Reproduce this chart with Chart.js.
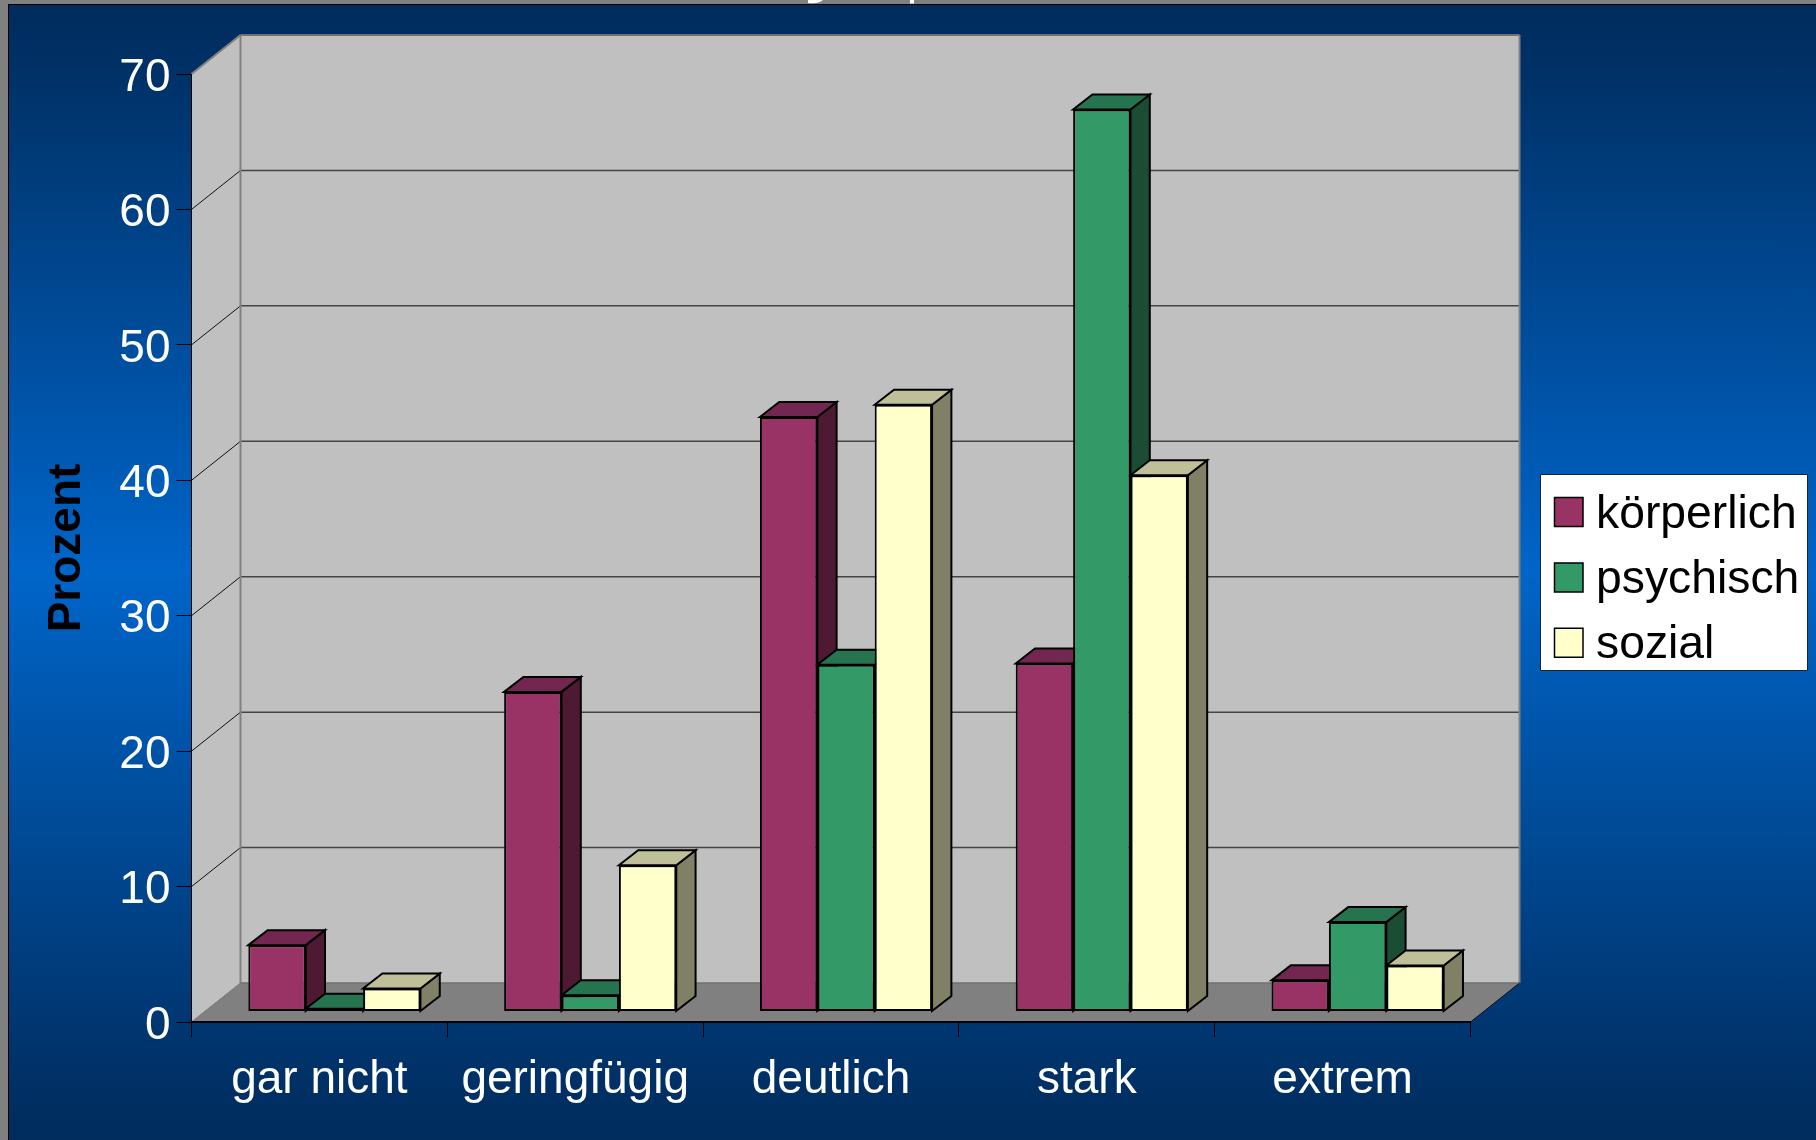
<!DOCTYPE html>
<html><head><meta charset="utf-8">
<style>
html,body{margin:0;padding:0;width:1816px;height:1140px;overflow:hidden;background:#808080}
#bg{position:absolute;left:8px;top:4px;width:1808px;height:1136px;box-sizing:border-box;border-left:1.5px solid #000;border-top:1.5px solid #000;
background:linear-gradient(to bottom,#002c5e 0%,#002f63 4%,#0065c9 50%,#002f63 96%,#002c5e 100%)}
#wrap{position:absolute;left:0;top:0;width:1816px;height:1140px}
canvas{display:block}
</style>
<script src="https://cdn.jsdelivr.net/npm/chart.js@4/dist/chart.umd.min.js"></script>
</head><body>
<div id="bg"></div>
<div id="wrap"><canvas id="c" width="1816" height="1140"></canvas></div>
<script>
const categories = ['gar nicht','geringfügig','deutlich','stark','extrem'];
const seriesNames = ['körperlich','psychisch','sozial'];
const koerperlich = [4.9,23.6,43.9,25.7,2.3];
const psychisch   = [0.2,1.2,25.6,66.6,6.6];
const sozial      = [1.7,10.8,44.8,39.6,3.4];
const yTicks = [0,10,20,30,40,50,60,70];
const frontColors = ['#993366','#339966','#FFFFCC'];
const topColors   = ['#732650','#267350','#BFBF99'];
const sideColors  = ['#4D1933','#1A4D33','#808066'];

const FONT = '"Liberation Sans", Arial, sans-serif';
const WALL = {dx:49, dy:39};
const SHIFT = {dx:15, dy:10.5};
const BAR = {dx:19.3, dy:15};

function poly(ctx, pts, fill, stroke, lw){
  ctx.beginPath();
  pts.forEach((p,i)=> i?ctx.lineTo(p[0],p[1]):ctx.moveTo(p[0],p[1]));
  ctx.closePath();
  if(fill){ctx.fillStyle=fill;ctx.fill();}
  if(stroke){ctx.strokeStyle=stroke;ctx.lineWidth=lw;ctx.stroke();}
}
function line(ctx,x1,y1,x2,y2,c,lw){
  ctx.beginPath();ctx.moveTo(x1,y1);ctx.lineTo(x2,y2);ctx.strokeStyle=c;ctx.lineWidth=lw;ctx.stroke();
}

const stage = {
  id:'stage',
  beforeDraw(chart){
    const {ctx,chartArea:a,scales:{y}} = chart;
    const d=WALL;
    ctx.save();
    // clipped title remnants at the very top edge
    ctx.fillStyle='#fff';
    ctx.beginPath();ctx.moveTo(808,0);ctx.lineTo(823,0);ctx.quadraticCurveTo(818,4,808,3);ctx.closePath();ctx.fill();
    ctx.fillRect(910,0,4,3.5);
    // back wall
    poly(ctx,[[a.left+d.dx,a.top-d.dy],[a.right+d.dx,a.top-d.dy],[a.right+d.dx,a.bottom-d.dy],[a.left+d.dx,a.bottom-d.dy]],'#C0C0C0');
    // left wall
    poly(ctx,[[a.left,a.top],[a.left+d.dx,a.top-d.dy],[a.left+d.dx,a.bottom-d.dy],[a.left,a.bottom]],'#C0C0C0');
    // floor
    poly(ctx,[[a.left,a.bottom],[a.left+d.dx,a.bottom-d.dy],[a.right+d.dx,a.bottom-d.dy],[a.right,a.bottom]],'#808080');
    // grid on walls
    yTicks.forEach(v=>{
      const p=y.getPixelForValue(v);
      if(v>0 && v<70){
        line(ctx,a.left,p,a.left+d.dx,p-d.dy,'#111',1);
        line(ctx,a.left+d.dx,p-d.dy,a.right+d.dx,p-d.dy,'#444',1.5);
      }
    });
    // wall outlines
    line(ctx,a.left,a.top,a.left+d.dx,a.top-d.dy,'#808080',2);
    line(ctx,a.left+d.dx,a.top-d.dy,a.right+d.dx,a.top-d.dy,'#707070',2);
    line(ctx,a.left+d.dx,a.top-d.dy,a.left+d.dx,a.bottom-d.dy,'#808080',2);
    line(ctx,a.right+d.dx,a.top-d.dy,a.right+d.dx,a.bottom-d.dy,'#808080',2);
    line(ctx,a.left+d.dx,a.bottom-d.dy,a.right+d.dx,a.bottom-d.dy,'#707070',1.5);
    line(ctx,a.left,a.bottom,a.left+d.dx,a.bottom-d.dy,'#808080',1);
    line(ctx,a.right,a.bottom,a.right+d.dx,a.bottom-d.dy,'#111',1);
    ctx.restore();
  },
  beforeDatasetsDraw(chart){
    const ctx=chart.ctx, b=BAR;
    ctx.save();
    ctx.translate(SHIFT.dx,-SHIFT.dy);
    // side and top faces, left to right; the library then paints the front faces over them
    ctx.save();
    ctx.lineJoin='miter';
    chart.data.datasets.forEach((ds,i)=>{
      chart.getDatasetMeta(i).data.forEach(el=>{
        const l=el.x-el.width/2, r=el.x+el.width/2, t=el.y, g=el.base;
        poly(ctx,[[r,t],[r+b.dx,t-b.dy],[r+b.dx,g-b.dy],[r,g]],sideColors[i],'#000',2);
        poly(ctx,[[l,t],[l+b.dx,t-b.dy],[r+b.dx,t-b.dy],[r,t]],topColors[i],'#000',2);
      });
    });
    ctx.restore();
  },
  afterDatasetsDraw(chart){
    chart.ctx.restore();
  },
  afterDraw(chart){
    const ctx=chart.ctx;
    ctx.save();
    poly(ctx,[[1540.5,474.5],[1807.5,474.5],[1807.5,670.5],[1540.5,670.5]],'#fff','#222',1);
    chart.data.datasets.forEach((ds,i)=>{
      const top=497.5+i*65.4;
      poly(ctx,[[1554.5,top],[1583,top],[1583,top+29],[1554.5,top+29]],ds.backgroundColor,'#000',1.5);
      ctx.fillStyle='#000';ctx.font='46.3px '+FONT;ctx.textAlign='left';ctx.textBaseline='alphabetic';
      ctx.fillText(ds.label,1596,top+30);
    });
    ctx.restore();
  }
};

new Chart(document.getElementById('c'),{
  type:'bar',
  plugins:[stage],
  data:{
    labels:categories,
    datasets:[koerperlich,psychisch,sozial].map((vals,i)=>({
      label:seriesNames[i],
      data:vals,
      backgroundColor:frontColors[i],
      borderColor:'#000',
      borderWidth:2,
      borderSkipped:false,
      categoryPercentage:0.673,
      barPercentage:1
    }))
  },
  options:{
    responsive:false,
    animation:false,
    layout:{padding:{left:40,top:74,right:345.5,bottom:0}},
    plugins:{legend:{display:false},tooltip:{enabled:false},title:{display:false}},
    scales:{
      x:{
        afterFit(s){s.height=118;},
        border:{color:'#000',width:2},
        grid:{drawOnChartArea:false,drawTicks:true,tickLength:15,color:'#000',lineWidth:1},
        ticks:{color:'#fff',padding:15.5,maxRotation:0,autoSkip:false,font:{family:FONT,size:46}}
      },
      y:{
        min:0,max:70,
        afterFit(s){s.width=151.5;},
        border:{color:'#000',width:1},
        grid:{drawOnChartArea:false,drawTicks:true,tickLength:15,color:'#000',lineWidth:1},
        ticks:{color:'#fff',padding:6,stepSize:10,labelOffset:4,font:{family:FONT,size:46}},
        title:{display:true,text:'Prozent',color:'#000',padding:0,font:{family:FONT,size:46,weight:'bold'}}
      }
    }
  }
});
</script>
</body></html>
